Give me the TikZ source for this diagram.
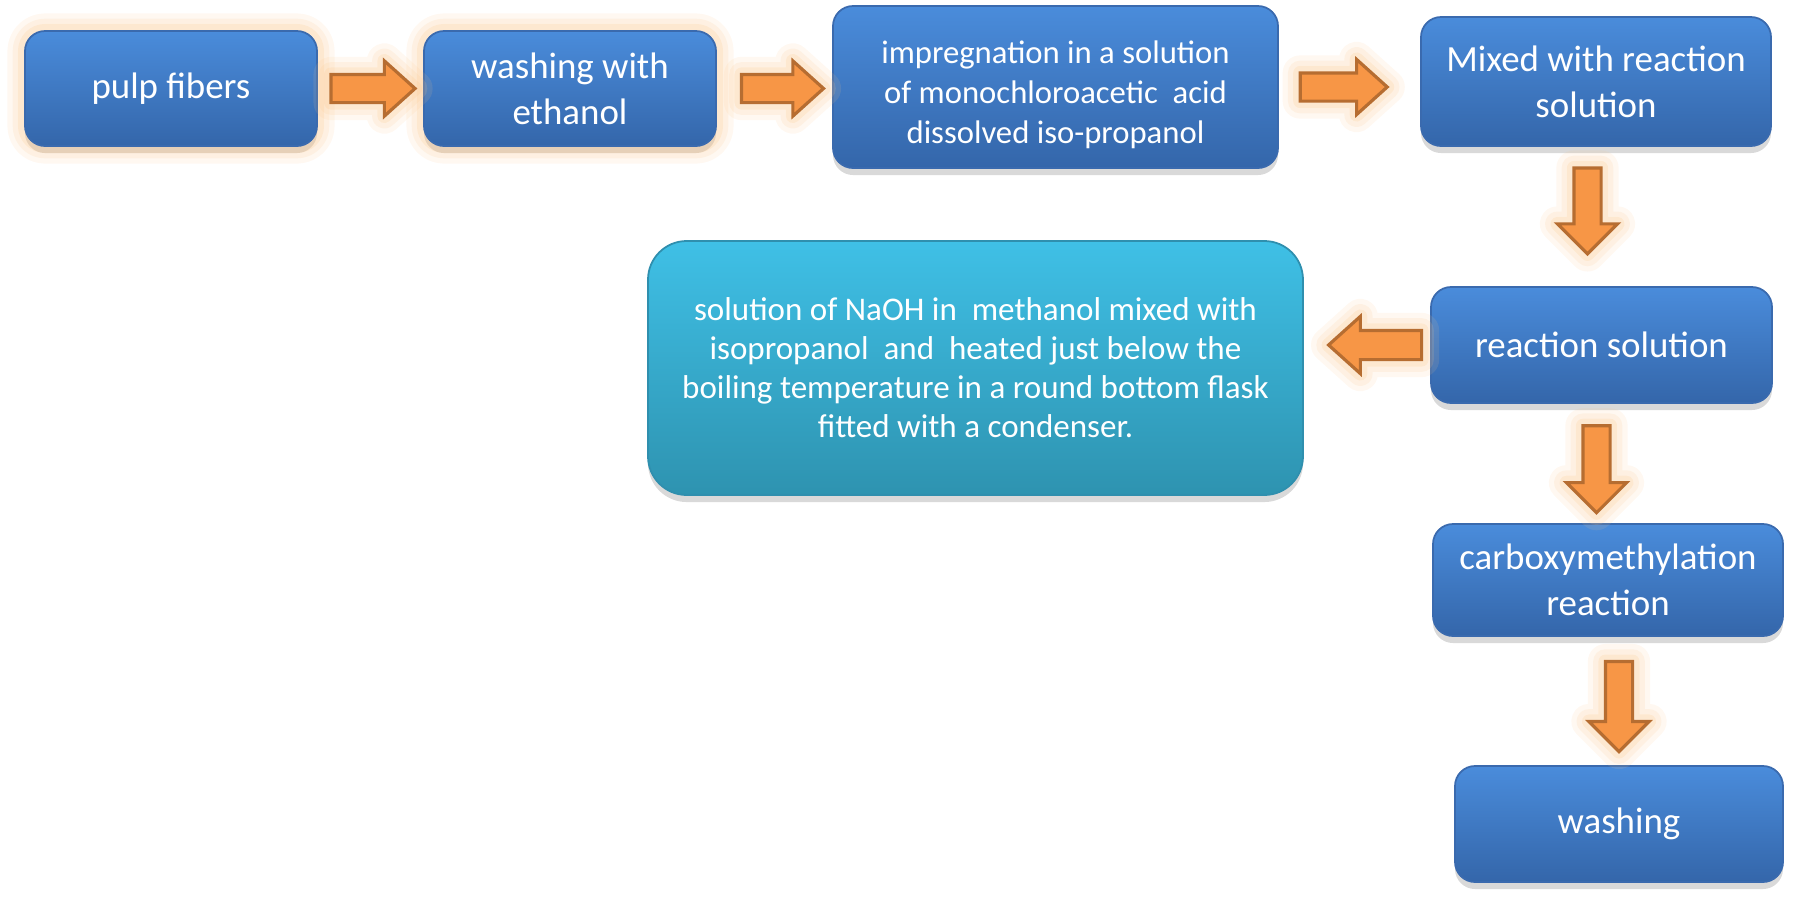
\documentclass[tikz,border=0pt]{standalone}
\usepackage{fontspec}
\setmainfont{Carlito}
\usetikzlibrary{positioning,calc,shapes.arrows,shadows}
\definecolor{boxtop}{HTML}{4A8CDB}
\definecolor{boxbot}{HTML}{3466AA}
\definecolor{boxline}{HTML}{3A6AAE}
\definecolor{cyantop}{HTML}{3FC0E6}
\definecolor{cyanbot}{HTML}{2E93B0}
\definecolor{cyanline}{HTML}{2F8FAE}
\definecolor{arrowfill}{HTML}{F79646}
\definecolor{arrowline}{HTML}{B66D31}
\definecolor{glowc}{HTML}{FBC58A}

\begin{document}
\begin{tikzpicture}[
  glow/.style={preaction={draw=glowc,line join=round,line width=10pt,opacity=0.12},preaction={draw=glowc,line join=round,line width=7pt,opacity=0.15},preaction={draw=glowc,line join=round,line width=4pt,opacity=0.2}},
  box/.style={rounded corners=5.7pt,draw=boxline,line width=0.5pt,top color=boxtop,bottom color=boxbot,text=white,align=center,inner sep=2pt,font=\fontsize{10.5}{13}\selectfont,drop shadow={shadow xshift=0pt,shadow yshift=-2pt,opacity=0.3}},
  note/.style={box,rounded corners=11pt,draw=cyanline,top color=cyantop,bottom color=cyanbot,font=\fontsize{9.4}{11.1}\selectfont},
  barrow/.style={single arrow,sloped,allow upside down,anchor=tail,draw=arrowline,fill=arrowfill,line width=0.9pt,inner sep=0.125cm,minimum height=0.84cm,minimum width=0.52cm,single arrow head extend=0.135cm,single arrow tip angle=84,glow},
  darrow/.style={barrow,inner sep=0.12cm,minimum height=0.86cm,minimum width=0.57cm,single arrow head extend=0.165cm,single arrow tip angle=90}]
\useasboundingbox (0,0) rectangle (17.97,-8.97);
\node[box,glow,minimum width=2.92cm,minimum height=1.15cm] (pulp) at (1.71,-0.885) {pulp fibers};
\node[box,glow,minimum width=2.92cm,minimum height=1.15cm] (wash) at (5.70,-0.885) {washing with\\ethanol};
\node[box,minimum width=4.45cm,minimum height=1.62cm,font=\fontsize{9.3}{11.4}\selectfont] (imp) at (10.555,-0.87) {\rule{0pt}{11pt}impregnation in a solution\\of monochloroacetic~ acid\\dissolved iso-propanol};
\node[box,minimum width=3.50cm,minimum height=1.29cm] (mix) at (15.96,-0.815) {Mixed with reaction\\solution};
\node[box,minimum width=3.41cm,minimum height=1.16cm] (react) at (16.015,-3.45) {reaction solution};
\node[note,minimum width=6.55cm,minimum height=2.54cm] (naoh) at (9.755,-3.68) {solution of NaOH in~ methanol mixed with\\isopropanol~ and~ heated just below the\\boiling temperature in a round bottom flask\\fitted with a condenser.};
\node[box,minimum width=3.50cm,minimum height=1.12cm] (carb) at (16.08,-5.80) {carboxymethylation\\reaction};
\node[box,minimum width=3.28cm,minimum height=1.16cm] (washing) at (16.19,-8.24) {washing};
\path (pulp) -- node[barrow,pos=0.11] {} (wash);
\path (wash.east) -- node[barrow,pos=0.2,minimum height=0.82cm] {} (wash.east -| imp.west);
\path (imp.east) -- node[barrow,pos=0.14,minimum height=0.87cm] {} (imp.east -| mix.west);
\path ([xshift=-0.085cm]mix.south) -- node[darrow,pos=0.14] {} ([xshift=-0.085cm]mix.south |- react.north);
\path (react.west) -- node[barrow,pos=0.055,minimum height=0.93cm,minimum width=0.54cm,single arrow head extend=0.14cm,inner sep=0.13cm] {} (react.west -| naoh.east);
\path ([xshift=-0.05cm]react.south) -- node[darrow,pos=0.17,minimum height=0.87cm] {} ([xshift=-0.05cm]react.south |- carb.north);
\path (carb.south -| washing.north) -- node[darrow,pos=0.18,minimum height=0.90cm] {} (washing.north);
\end{tikzpicture}
\end{document}
